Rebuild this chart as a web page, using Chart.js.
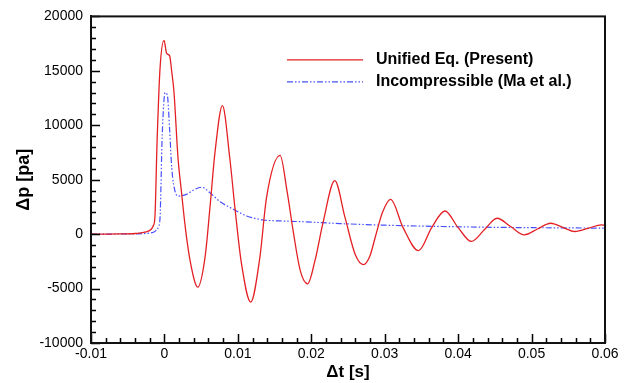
<!DOCTYPE html>
<html>
<head>
<meta charset="utf-8">
<script src="https://cdn.jsdelivr.net/npm/chart.js@4"></script>
<style>
  html, body { margin: 0; padding: 0; background: #fff; }
  #wrap { width: 632px; height: 383px; }
</style>
</head>
<body>
<div id="wrap"><canvas id="chart"></canvas></div>
<script>
// Unified Eq. (Present) - red solid
const redT = [-0.01, -0.006, -0.004, -0.0025, -0.0018, -0.0015, -0.0013, -0.001, -0.0006, -0.00005, 0.0003, 0.0007, 0.001,
  0.0013, 0.00185, 0.00231, 0.0029, 0.00358, 0.00453, 0.00553, 0.0062, 0.0069, 0.0079, 0.0089, 0.0096, 0.0105, 0.01175,
  0.013, 0.0139, 0.01575, 0.0167, 0.0176, 0.0185, 0.0195, 0.0205, 0.0216, 0.0232, 0.0246, 0.026, 0.0271, 0.028, 0.0287,
  0.0297, 0.0308, 0.0325, 0.0346, 0.0364, 0.0382, 0.04, 0.0418, 0.0436, 0.0453, 0.04715, 0.049, 0.0508, 0.0526,
  0.05425, 0.0559, 0.0578, 0.0595, 0.06];
const redP = [0, 20, 60, 200, 450, 800, 1500, 8500, 15200, 17800, 16600, 16400, 14900,
  13060, 6990, 3950, 300, -2740, -4870, -2130, 2430, 7600, 11800, 6990, 2430, -2740, -6240,
  -2130, 3340, 7230, 3950, 0, -3350, -4560, -2440, 1060, 4920, 1510, -1900, -2800, -1980, -310,
  2000, 3190, 600, -1520, 600, 2125, 600, -670, 425, 1460, 700, -60, 470, 1000,
  620, 240, 560, 850, 820];

// Incompressible (Ma et al.) - blue dash-dot-dot
const blueT = [-0.01, -0.004, -0.002, -0.0012, -0.0008, -0.0006, -0.0003, 0.0001, 0.0004, 0.0007, 0.001, 0.0015, 0.0019,
  0.003, 0.0041, 0.0051, 0.0062, 0.0076, 0.0094, 0.0112, 0.0135, 0.0158, 0.0185, 0.0239, 0.03, 0.038, 0.0457, 0.06];
const blueP = [0, 30, 100, 300, 700, 1500, 9100, 13000, 12750, 9700, 6070, 3800, 3500,
  3650, 4100, 4310, 3800, 2970, 2280, 1670, 1300, 1210, 1150, 970, 820, 700, 620, 550];

const seriesLabels = ['Unified Eq. (Present)', 'Incompressible (Ma et al.)'];
const xTicks = [-0.01, 0.06, 0.01, 5];     // min, max, major step, minor divisions per major
const yTicks = [-10000, 20000, 5000, 5];

const toPoints = (t, p) => t.map((v, i) => ({ x: v, y: p[i] }));

// inward tick marks, closed frame and the in-plot legend
const frameAndTicks = {
  id: 'frameAndTicks',
  afterDraw(chart) {
    const { ctx, chartArea: a, scales: { x, y } } = chart;
    ctx.save();
    ctx.setLineDash([]);
    ctx.strokeStyle = '#000';
    ctx.lineWidth = 1.5;
    ctx.beginPath();
    const nx = Math.round((xTicks[1] - xTicks[0]) / xTicks[2]) * xTicks[3];
    for (let i = 0; i <= nx; i++) {
      const v = xTicks[0] + i * xTicks[2] / xTicks[3];
      const px = Math.round(x.getPixelForValue(v)) + 0.5;
      const len = i % xTicks[3] === 0 ? 9 : 5;
      ctx.moveTo(px, a.bottom);
      ctx.lineTo(px, a.bottom - len);
    }
    const ny = Math.round((yTicks[1] - yTicks[0]) / yTicks[2]) * yTicks[3];
    for (let i = 0; i <= ny; i++) {
      const v = yTicks[0] + i * yTicks[2] / yTicks[3];
      const py = Math.round(y.getPixelForValue(v)) + 0.5;
      const len = i % yTicks[3] === 0 ? 9 : 5;
      ctx.moveTo(a.left, py);
      ctx.lineTo(a.left + len, py);
    }
    ctx.stroke();
    ctx.lineWidth = 2;
    ctx.strokeStyle = '#111';
    ctx.strokeRect(a.left, a.top, a.right - a.left, a.bottom - a.top);

    const ds = chart.data.datasets;
    const lx = a.left + 196, ly = a.top + 43, gap = 22;
    ds.forEach((d, i) => {
      const yy = ly + i * gap + 0.5;
      ctx.beginPath();
      ctx.strokeStyle = d.borderColor;
      ctx.lineWidth = d.borderWidth;
      ctx.setLineDash(d.borderDash || []);
      ctx.moveTo(lx, yy);
      ctx.lineTo(lx + 76, yy);
      ctx.stroke();
      ctx.setLineDash([]);
      ctx.fillStyle = '#000';
      ctx.font = 'bold 16px "Liberation Sans", Arial, sans-serif';
      ctx.textBaseline = 'middle';
      ctx.fillText(d.label, lx + 89, yy);
    });
    ctx.restore();
  }
};

new Chart(document.getElementById('chart'), {
  type: 'line',
  data: {
    datasets: [
      {
        label: seriesLabels[0],
        data: toPoints(redT, redP),
        borderColor: 'rgb(228, 32, 36)',
        borderWidth: 1.3,
        pointRadius: 0,
        cubicInterpolationMode: 'monotone',
        fill: false
      },
      {
        label: seriesLabels[1],
        data: toPoints(blueT, blueP),
        borderColor: 'rgb(70, 80, 255)',
        borderWidth: 1.2,
        borderDash: [6, 2, 1.5, 2, 1.5, 2],
        pointRadius: 0,
        cubicInterpolationMode: 'monotone',
        fill: false
      }
    ]
  },
  options: {
    responsive: true,
    maintainAspectRatio: false,
    animation: false,
    layout: { padding: { top: 14, right: 27, left: 0, bottom: 0 } },
    plugins: { legend: { display: false }, tooltip: { enabled: false } },
    scales: {
      x: {
        type: 'linear',
        min: xTicks[0],
        max: xTicks[1],
        grid: { display: false, drawTicks: false },
        border: { display: true, color: '#111', width: 2 },
        ticks: {
          stepSize: xTicks[2],
          padding: 3,
          color: '#000',
          font: { family: '"Liberation Sans", Arial, sans-serif', size: 14 },
          maxRotation: 0,
          callback: v => String(Number(v.toFixed(2)))
        },
        title: {
          display: true,
          text: 'Δt [s]',
          color: '#000',
          font: { family: '"Liberation Sans", Arial, sans-serif', size: 17, weight: 'bold' },
          padding: { top: 0, bottom: 0 }
        },
        afterFit: s => { s.height = 40; }
      },
      y: {
        type: 'linear',
        min: yTicks[0],
        max: yTicks[1],
        grid: { display: false, drawTicks: false },
        border: { display: true, color: '#111', width: 2 },
        ticks: {
          stepSize: yTicks[2],
          padding: 8,
          color: '#000',
          font: { family: '"Liberation Sans", Arial, sans-serif', size: 14 },
          callback: v => String(v)
        },
        title: {
          display: true,
          text: 'Δp [pa]',
          color: '#000',
          font: { family: '"Liberation Sans", Arial, sans-serif', size: 18, weight: 'bold' },
          padding: { top: 13, bottom: 0 }
        },
        afterFit: s => { s.width = 91; }
      }
    }
  },
  plugins: [frameAndTicks]
});
</script>
</body>
</html>
